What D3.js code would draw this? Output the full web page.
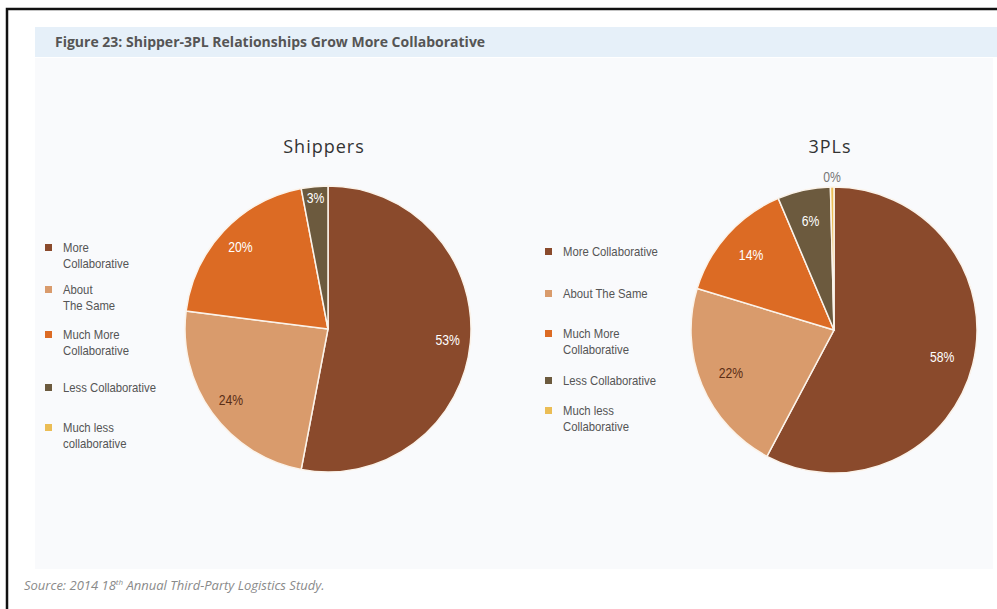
<!DOCTYPE html>
<html lang="en">
<head>
	<meta charset="utf-8">
	<title>Shipper-3PL Relationships</title>
	<script src="https://d3js.org/d3.v7.min.js"></script>
	<style>
		body { margin: 0; background: #fff; }
		text { font-family: "Liberation Sans Narrow", "Arial Narrow", "Liberation Sans", sans-serif; }
	</style>
</head>
<body>
	<script>
		var categories = ["More Collaborative", "About The Same", "Much More Collaborative", "Less Collaborative", "Much less collaborative"];
		var shipperValues = [53, 24, 20, 3, 0];
		var plValues = [58, 22, 14, 6, 0.4];
		// legend labels as they are wrapped in the picture
		var shipperLegend = [["More", "Collaborative"], ["About", "The Same"], ["Much More", "Collaborative"], ["Less Collaborative"], ["Much less", "collaborative"]];
		var plLegend = [["More Collaborative"], ["About The Same"], ["Much More", "Collaborative"], ["Less Collaborative"], ["Much less", "Collaborative"]];
		var colors = ["#8a4a2c", "#d99b6c", "#dc6b24", "#6c5a3e", "#ebbd55"];

		var w = 997, h = 609;
		var narrow = 0.87; // squeeze for the condensed chart font

		var svg = d3.select("body")
			.append("svg")
			.attr("width", w)
			.attr("height", h);

		// outer frame
		svg.append("path")
			.attr("d", "M7,609 V9 H997")
			.attr("fill", "none")
			.attr("stroke", "#111")
			.attr("stroke-width", 2.5);

		// title band
		svg.append("rect")
			.attr("x", 35).attr("y", 27)
			.attr("width", w - 35).attr("height", 30)
			.attr("fill", "#e6f0f9");
		svg.append("text")
			.attr("x", 55).attr("y", 47)
			.style("font-family", "'Open Sans', sans-serif")
			.style("font-weight", 700)
			.style("font-size", "14px")
			.attr("fill", "#555")
			.text("Figure 23: Shipper-3PL Relationships Grow More Collaborative");

		// chart area
		svg.append("rect")
			.attr("x", 35).attr("y", 58)
			.attr("width", 958).attr("height", 511)
			.attr("fill", "#f9fafc");

		// source
		var src = svg.append("text")
			.attr("x", 24).attr("y", 590)
			.style("font-family", "'Open Sans', sans-serif")
			.style("font-style", "italic")
			.style("font-size", "13px")
			.attr("fill", "#8a8a8a");
		src.append("tspan").text("Source: 2014 18");
		src.append("tspan").attr("dy", -5).style("font-size", "8px").text("th");
		src.append("tspan").attr("dy", 5).text(" Annual Third-Party Logistics Study.");

		var color = d3.scaleOrdinal().domain(categories).range(colors);
		var pct = d3.format(".0f");

		function drawPie(values, title, cx, cy, r, labelK) {
			var g = svg.append("g").attr("transform", "translate(" + cx + "," + cy + ")");
			var pie = d3.pie().sort(null).value(function(d) { return d; });
			var arc = d3.arc().innerRadius(0).outerRadius(r);
			var arcs = pie(values);

			g.selectAll("path")
				.data(arcs)
				.enter()
				.append("path")
				.attr("d", arc)
				.attr("fill", function(d, i) { return color(categories[i]); })
				.attr("stroke", "#fbf3ea")
				.attr("stroke-width", function(d) { return d.value > 0 ? 1.5 : 0; });

			g.selectAll("text.lbl")
				.data(arcs.filter(function(d) { return d.value > 0; }))
				.enter()
				.append("text")
				.attr("class", "lbl")
				.attr("transform", function(d) {
					var k = d.value < 1 ? 1.07 : (d.value < 5 ? 0.92 : labelK);
					var c = d3.arc().innerRadius(r * k).outerRadius(r * k).centroid(d);
					return "translate(" + c[0] + "," + c[1] + ") scale(" + narrow + ",1)";
				})
				.attr("text-anchor", "middle")
				.attr("dy", "0.35em")
				.style("font-size", "14px")
				.attr("fill", function(d) {
					if (d.value < 1) return "#777";
					return d.index === 1 ? "#5a2e16" : "#fff";
				})
				.text(function(d) { return pct(d.value) + "%"; });

			svg.append("text")
				.attr("x", cx - 4).attr("y", 153)
				.attr("text-anchor", "middle")
				.style("font-family", "'Open Sans', sans-serif")
				.style("font-size", "18px")
				.style("letter-spacing", "1px")
				.attr("fill", "#333")
				.text(title);
		}

		function drawLegend(lines, x, ys) {
			var g = svg.append("g");
			var items = g.selectAll("g")
				.data(lines)
				.enter()
				.append("g")
				.attr("transform", function(d, i) { return "translate(" + x + "," + ys[i] + ")"; });
			items.append("rect")
				.attr("x", 0).attr("y", -4)
				.attr("width", 7).attr("height", 7)
				.attr("fill", function(d, i) { return colors[i]; });
			items.append("text")
				.attr("transform", "translate(18,0) scale(" + narrow + ",1)")
				.style("font-size", "13px")
				.attr("fill", "#555")
				.selectAll("tspan")
				.data(function(d) { return d; })
				.enter()
				.append("tspan")
				.attr("x", 0)
				.attr("y", function(d, i) { return 4 + i * 16.5; })
				.text(function(d) { return d; });
		}

		drawPie(shipperValues, "Shippers", 328, 329, 143, 0.84);
		drawPie(plValues, "3PLs", 834, 330, 143, 0.78);

		drawLegend(shipperLegend, 45, [248, 290, 335, 388, 428]);
		drawLegend(plLegend, 545, [252, 294, 334, 381, 411]);
	</script>
</body>
</html>
